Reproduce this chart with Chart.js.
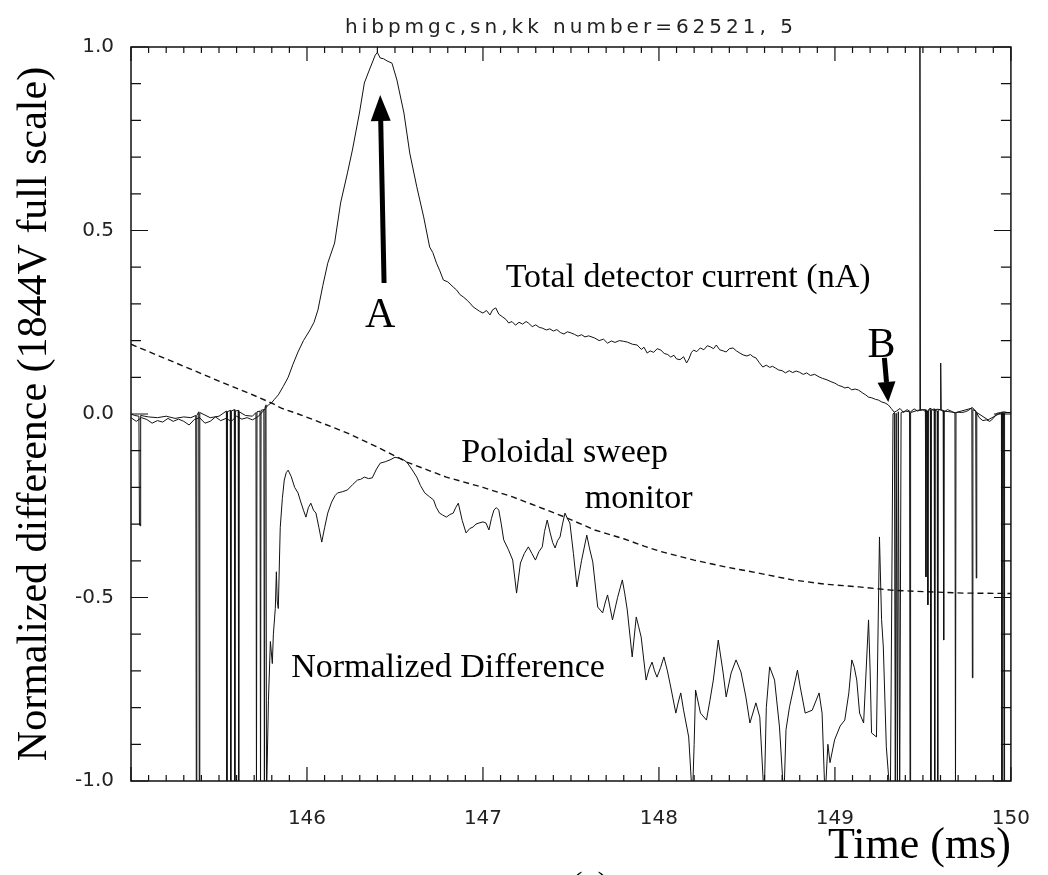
<!DOCTYPE html>
<html>
<head>
<meta charset="utf-8">
<script src="https://cdn.jsdelivr.net/npm/chart.js@4.4.1/dist/chart.umd.min.js"></script>
<style>
  html, body { margin: 0; padding: 0; background: #ffffff; }
  #wrap { width: 1048px; height: 875px; }
</style>
</head>
<body>
<div id="wrap"><canvas id="c" width="1048" height="875"></canvas></div>
<script>
// Total detector current trace (time in ms, normalised value)
const currentTime = [
  145.000,145.030,145.060,145.090,145.120,145.150,145.180,145.210,145.240,145.270,
  145.300,145.330,145.360,145.390,145.420,145.450,145.480,145.510,145.540,145.570,
  145.600,145.630,145.660,145.690,145.720,145.742,145.781,145.798,145.815,145.837,
  145.865,145.893,145.920,145.949,145.980,146.017,146.040,146.062,146.090,146.118,
  146.157,146.191,146.230,146.258,146.298,146.326,146.354,146.388,146.400,146.416,
  146.435,146.455,146.483,146.511,146.551,146.584,146.624,146.663,146.697,146.715,
  146.736,146.755,146.775,146.800,146.831,146.850,146.870,146.888,146.910,146.930,
  146.944,146.965,146.980,147.000,147.020,147.040,147.055,147.073,147.090,147.110,
  147.130,147.146,147.165,147.185,147.205,147.225,147.245,147.258,147.280,147.300,
  147.320,147.337,147.360,147.380,147.400,147.420,147.440,147.460,147.480,147.500,
  147.520,147.540,147.560,147.580,147.600,147.635,147.660,147.685,147.708,147.730,
  147.750,147.775,147.800,147.820,147.850,147.876,147.900,147.915,147.933,147.950,
  147.970,147.990,148.011,148.030,148.050,148.067,148.085,148.100,148.120,148.140,
  148.157,148.170,148.185,148.197,148.215,148.235,148.255,148.275,148.292,148.310,
  148.326,148.345,148.365,148.382,148.400,148.421,148.440,148.460,148.478,148.500,
  148.520,148.535,148.551,148.570,148.590,148.610,148.630,148.645,148.663,148.680,
  148.700,148.719,148.740,148.760,148.780,148.798,148.820,148.840,148.860,148.885,
  148.910,148.930,148.955,148.983,149.000,149.020,149.040,149.056,149.075,149.095,
  149.115,149.135,149.155,149.175,149.191,149.210,149.230,149.247,149.265,149.285,
  149.303,149.320,149.337,149.350,149.370,149.390,149.410,149.430,149.450,149.470,
  149.480,149.483,149.486,149.500,149.520,149.540,149.560,149.580,149.598,149.601,
  149.604,149.620,149.640,149.660,149.680,149.700,149.720,149.740,149.760,149.780,
  149.800,149.820,149.840,149.860,149.880,149.900,149.920,149.940,149.960,149.980,
  150.000
];
const currentValue = [
  -0.010,-0.020,-0.010,-0.015,-0.025,-0.018,-0.022,-0.012,-0.020,-0.014,
  -0.020,-0.030,-0.015,-0.010,-0.025,-0.020,-0.008,-0.018,-0.012,-0.020,
  -0.006,-0.014,-0.010,-0.016,-0.008,0.003,0.025,0.030,0.040,0.052,
  0.075,0.100,0.135,0.169,0.200,0.229,0.250,0.283,0.350,0.411,
  0.466,0.575,0.657,0.719,0.820,0.902,0.937,0.978,0.985,0.970,
  0.968,0.962,0.956,0.910,0.820,0.711,0.619,0.537,0.455,0.440,
  0.411,0.390,0.365,0.360,0.346,0.338,0.325,0.319,0.310,0.300,
  0.292,0.285,0.280,0.275,0.282,0.270,0.284,0.289,0.272,0.265,
  0.258,0.248,0.252,0.242,0.250,0.245,0.252,0.248,0.238,0.243,
  0.236,0.234,0.229,0.232,0.226,0.230,0.222,0.218,0.224,0.221,
  0.217,0.212,0.216,0.210,0.213,0.207,0.200,0.204,0.193,0.199,
  0.195,0.200,0.198,0.196,0.190,0.188,0.176,0.182,0.166,0.172,
  0.168,0.178,0.174,0.165,0.162,0.155,0.160,0.150,0.148,0.156,
  0.139,0.150,0.168,0.174,0.170,0.180,0.175,0.186,0.183,0.178,
  0.188,0.175,0.172,0.169,0.178,0.180,0.172,0.166,0.161,0.158,
  0.162,0.156,0.153,0.140,0.128,0.133,0.127,0.130,0.125,0.120,
  0.118,0.112,0.118,0.113,0.117,0.114,0.108,0.112,0.105,0.108,
  0.101,0.097,0.093,0.087,0.084,0.078,0.075,0.071,0.073,0.066,
  0.068,0.065,0.058,0.052,0.046,0.044,0.040,0.038,0.033,0.030,
  0.025,0.015,0.005,0.008,0.015,0.004,0.012,0.006,0.014,0.008,
  0.010,1.050,0.010,0.012,0.004,0.016,0.010,0.013,0.012,0.139,
  0.010,0.006,0.012,0.008,0.003,0.005,0.004,0.006,0.010,0.018,
  0.008,-0.010,-0.018,-0.016,-0.020,-0.012,0.002,0.004,0.006,0.004,
  0.004
];

// Normalized difference trace
const normTime = [
  145.000,145.020,145.045,145.048,145.052,145.055,145.100,145.150,145.200,145.250,
  145.300,145.340,145.368,145.371,145.374,145.385,145.388,145.391,145.450,145.500,
  145.542,145.545,145.548,145.564,145.567,145.570,145.587,145.590,145.593,145.609,
  145.612,145.615,145.650,145.690,145.710,145.713,145.716,145.733,145.736,145.739,
  145.755,145.758,145.762,145.767,145.770,145.781,145.792,145.803,145.809,145.820,
  145.826,145.831,145.837,145.848,145.860,145.871,145.882,145.893,145.910,145.930,
  145.949,145.965,145.980,145.994,146.008,146.022,146.037,146.051,146.068,146.084,
  146.100,146.118,146.140,146.160,146.174,146.200,146.230,146.260,146.287,146.305,
  146.326,146.350,146.371,146.395,146.416,146.445,146.472,146.500,146.522,146.545,
  146.567,146.595,146.624,146.645,146.669,146.695,146.719,146.735,146.753,146.770,
  146.792,146.812,146.831,146.845,146.860,146.882,146.904,146.925,146.944,146.960,
  146.978,147.000,147.017,147.034,147.048,147.062,147.076,147.090,147.104,147.118,
  147.145,147.169,147.191,147.213,147.235,147.258,147.278,147.298,147.318,147.337,
  147.350,147.365,147.382,147.396,147.410,147.424,147.438,147.452,147.466,147.480,
  147.494,147.514,147.534,147.560,147.590,147.605,147.624,147.652,147.680,147.694,
  147.708,147.736,147.765,147.792,147.806,147.820,147.848,147.871,147.885,147.899,
  147.927,147.944,147.961,147.975,147.989,148.010,148.028,148.048,148.067,148.096,
  148.110,148.124,148.140,148.169,148.190,148.200,148.208,148.236,148.270,148.290,
  148.309,148.337,148.365,148.382,148.410,148.438,148.466,148.494,148.517,148.551,
  148.573,148.598,148.610,148.629,148.657,148.685,148.710,148.722,148.742,148.787,
  148.803,148.831,148.871,148.910,148.927,148.944,148.960,148.972,148.998,149.030,
  149.056,149.079,149.096,149.110,149.124,149.140,149.163,149.191,149.200,149.208,
  149.236,149.253,149.265,149.275,149.292,149.315,149.330,149.338,149.343,149.348,
  149.355,149.360,149.368,149.376,149.400,149.424,149.427,149.430,149.470,149.514,
  149.517,149.520,149.525,149.528,149.531,149.542,149.545,149.548,149.564,149.567,
  149.570,149.581,149.584,149.587,149.615,149.618,149.621,149.682,149.685,149.688,
  149.778,149.781,149.784,149.800,149.803,149.806,149.870,149.946,149.949,149.952,
  149.958,149.961,149.964,150.000
];
const normValue = [
  0.000,-0.004,-0.006,-0.300,-0.305,-0.004,-0.008,-0.010,-0.006,-0.012,
  -0.008,-0.010,-0.004,-1.050,-0.004,0.006,-1.050,0.004,-0.010,-0.006,
  0.008,-1.050,0.006,0.010,-1.050,0.008,0.012,-1.050,0.008,0.010,
  -1.050,0.006,-0.004,-0.006,0.004,-1.050,0.006,0.008,-1.050,0.010,
  0.012,-1.050,0.020,0.025,-1.050,-0.780,-0.620,-0.680,-0.600,-0.530,
  -0.430,-0.510,-0.530,-0.310,-0.230,-0.180,-0.160,-0.153,-0.170,-0.200,
  -0.215,-0.240,-0.262,-0.281,-0.255,-0.243,-0.262,-0.270,-0.310,-0.349,
  -0.310,-0.270,-0.240,-0.222,-0.215,-0.212,-0.207,-0.192,-0.180,-0.178,
  -0.172,-0.176,-0.174,-0.150,-0.134,-0.130,-0.125,-0.118,-0.120,-0.124,
  -0.131,-0.150,-0.172,-0.195,-0.215,-0.225,-0.234,-0.255,-0.270,-0.275,
  -0.281,-0.274,-0.270,-0.255,-0.243,-0.290,-0.324,-0.312,-0.308,-0.300,
  -0.297,-0.294,-0.297,-0.316,-0.285,-0.262,-0.255,-0.262,-0.300,-0.343,
  -0.370,-0.398,-0.488,-0.406,-0.380,-0.362,-0.380,-0.398,-0.375,-0.362,
  -0.320,-0.289,-0.324,-0.350,-0.365,-0.345,-0.335,-0.300,-0.270,-0.285,
  -0.297,-0.380,-0.471,-0.400,-0.330,-0.365,-0.403,-0.526,-0.542,-0.515,
  -0.493,-0.561,-0.500,-0.452,-0.490,-0.534,-0.662,-0.553,-0.580,-0.608,
  -0.725,-0.695,-0.676,-0.700,-0.717,-0.690,-0.662,-0.700,-0.744,-0.815,
  -0.785,-0.760,-0.807,-0.880,-1.050,-0.900,-0.752,-0.815,-0.834,-0.780,
  -0.725,-0.616,-0.706,-0.771,-0.706,-0.670,-0.703,-0.771,-0.842,-0.787,
  -0.826,-1.050,-0.800,-0.689,-0.725,-0.853,-1.050,-0.860,-0.798,-0.698,
  -0.744,-0.815,-0.807,-0.760,-0.815,-1.050,-0.900,-0.950,-0.888,-0.850,
  -0.834,-0.760,-0.670,-0.690,-0.725,-0.815,-0.842,-0.561,-0.700,-0.869,
  -0.880,-0.335,-0.560,-0.635,-0.907,-1.050,0.000,0.004,-1.050,0.002,
  -1.050,0.006,-1.050,0.004,0.008,0.006,-1.050,0.004,0.010,0.012,
  -0.444,0.010,0.008,-0.520,0.010,0.012,-1.050,0.010,0.014,-1.050,
  0.010,0.008,-1.050,0.012,0.010,-0.616,0.008,0.004,-1.050,0.004,
  0.016,-0.719,0.012,0.008,-0.447,0.004,-0.016,0.004,-1.050,0.004,
  0.004,-1.050,0.004,0.004
];

// Poloidal sweep monitor (dashed)
const sweepTime = [
  145.000,145.100,145.200,145.300,145.400,145.483,145.560,145.669,145.798,145.854,
  145.950,146.050,146.230,146.400,146.567,146.792,147.000,147.169,147.300,147.466,
  147.635,147.800,147.916,148.011,148.200,148.382,148.550,148.758,148.950,149.135,
  149.320,149.500,149.730,150.000
];
const sweepValue = [
  0.190,0.170,0.150,0.130,0.110,0.093,0.078,0.057,0.030,0.016,
  0.000,-0.018,-0.052,-0.090,-0.131,-0.172,-0.200,-0.226,-0.250,-0.281,
  -0.316,-0.340,-0.360,-0.375,-0.398,-0.417,-0.432,-0.452,-0.464,-0.471,
  -0.480,-0.484,-0.488,-0.489
];

// Axis settings
const xRange = [145, 150];
const yRange = [-1, 1];
const xMajorStep = 1, xMinorStep = 0.1;
const yMajorStep = 0.5, yMinorStep = 0.1;

const titleText = 'hibpmgc,sn,kk number=62521, 5';
const yAxisTitle = 'Normalized difference (1844V full scale)';
const xAxisTitle = 'Time (ms)';

// Annotation labels and arrows, anchored in data units
const labelNotes = [
  { text: 'Total detector current (nA)', t: 147.129, v: 0.346, align: 'left', size: 34 },
  { text: 'Poloidal sweep', t: 146.876, v: -0.131, align: 'left', size: 34 },
  { text: 'monitor', t: 147.579, v: -0.256, align: 'left', size: 34 },
  { text: 'Normalized Difference', t: 145.910, v: -0.717, align: 'left', size: 34 },
  { text: 'A', t: 146.416, v: 0.237, align: 'center', size: 42 },
  { text: 'B', t: 149.264, v: 0.155, align: 'center', size: 42 }
];
const arrowNotes = [
  { from: [146.438, 0.357], to: [146.416, 0.869], shaft: 5, headLen: 26, headHalf: 10 },
  { from: [149.281, 0.153], to: [149.303, 0.033], shaft: 5, headLen: 20, headHalf: 9 }
];

const pts = (ts, vs) => ts.map((t, i) => ({ x: t, y: vs[i] }));

const serif = '"Liberation Serif", "Times New Roman", serif';
const plain = '"DejaVu Sans", sans-serif';

const framePlugin = {
  id: 'frameTicksNotes',
  afterDatasetsDraw(chart) {
    const { ctx, chartArea: a, scales: { x, y } } = chart;
    ctx.save();
    // plot frame
    ctx.strokeStyle = '#111';
    ctx.lineWidth = 1.5;
    ctx.strokeRect(a.left, a.top, a.right - a.left, a.bottom - a.top);
    // inward tick marks on all four sides
    ctx.lineWidth = 1.2;
    ctx.beginPath();
    const nx = Math.round((xRange[1] - xRange[0]) / xMinorStep);
    const perMajorX = Math.round(xMajorStep / xMinorStep);
    for (let i = 0; i <= nx; i++) {
      const px = x.getPixelForValue(xRange[0] + i * xMinorStep);
      const len = i % perMajorX === 0 ? 14 : 6;
      ctx.moveTo(px, a.bottom); ctx.lineTo(px, a.bottom - len);
      ctx.moveTo(px, a.top); ctx.lineTo(px, a.top + len);
    }
    const ny = Math.round((yRange[1] - yRange[0]) / yMinorStep);
    const perMajorY = Math.round(yMajorStep / yMinorStep);
    for (let i = 0; i <= ny; i++) {
      const py = y.getPixelForValue(yRange[0] + i * yMinorStep);
      const len = i % perMajorY === 0 ? 17 : 10;
      ctx.moveTo(a.left, py); ctx.lineTo(a.left + len, py);
      ctx.moveTo(a.right, py); ctx.lineTo(a.right - len, py);
    }
    ctx.stroke();

    // arrows
    ctx.fillStyle = '#000';
    ctx.strokeStyle = '#000';
    arrowNotes.forEach(ar => {
      const x0 = x.getPixelForValue(ar.from[0]), y0 = y.getPixelForValue(ar.from[1]);
      const x1 = x.getPixelForValue(ar.to[0]), y1 = y.getPixelForValue(ar.to[1]);
      const ang = Math.atan2(y1 - y0, x1 - x0);
      const bx = x1 - Math.cos(ang) * ar.headLen, by = y1 - Math.sin(ang) * ar.headLen;
      ctx.lineWidth = ar.shaft;
      ctx.beginPath(); ctx.moveTo(x0, y0); ctx.lineTo(bx, by); ctx.stroke();
      ctx.beginPath();
      ctx.moveTo(x1, y1);
      ctx.lineTo(bx + Math.sin(ang) * ar.headHalf, by - Math.cos(ang) * ar.headHalf);
      ctx.lineTo(bx - Math.sin(ang) * ar.headHalf, by + Math.cos(ang) * ar.headHalf);
      ctx.closePath(); ctx.fill();
    });

    // text notes
    ctx.textBaseline = 'alphabetic';
    labelNotes.forEach(n => {
      ctx.font = n.size + 'px ' + serif;
      ctx.textAlign = n.align;
      ctx.fillText(n.text, x.getPixelForValue(n.t), y.getPixelForValue(n.v));
    });

    // plot title above the frame
    ctx.font = '20px ' + plain;
    ctx.textAlign = 'center';
    ctx.fillStyle = '#222';
    if ('letterSpacing' in ctx) ctx.letterSpacing = '4px';
    ctx.fillText(titleText, (a.left + a.right) / 2, a.top - 14);
    if ('letterSpacing' in ctx) ctx.letterSpacing = '0px';

    // panel tag, mostly below the page edge
    ctx.font = '34px ' + serif;
    ctx.fillStyle = '#000';
    ctx.fillText('(a)', 590, chart.height + 20);
    ctx.restore();
  }
};

new Chart(document.getElementById('c'), {
  type: 'scatter',
  data: {
    datasets: [
      { label: 'Total detector current', data: pts(currentTime, currentValue),
        showLine: true, borderColor: '#111', borderWidth: 1, pointRadius: 0, tension: 0 },
      { label: 'Normalized Difference', data: pts(normTime, normValue),
        showLine: true, borderColor: '#111', borderWidth: 1, pointRadius: 0, tension: 0 },
      { label: 'Poloidal sweep monitor', data: pts(sweepTime, sweepValue),
        showLine: true, borderColor: '#111', borderWidth: 1.4, borderDash: [6, 4],
        pointRadius: 0, tension: 0 }
    ]
  },
  options: {
    responsive: false,
    animation: false,
    devicePixelRatio: 1,
    events: [],
    layout: { padding: { top: 47, right: 27, left: 0, bottom: 0 } },
    plugins: { legend: { display: false }, tooltip: { enabled: false }, title: { display: false } },
    scales: {
      x: {
        type: 'linear', min: xRange[0], max: xRange[1],
        grid: { display: false }, border: { display: false },
        ticks: {
          stepSize: xMajorStep, padding: 18, color: '#222', maxRotation: 0,
          font: { family: plain, size: 20 },
          callback: v => (v === xRange[0] ? null : String(v))
        },
        title: {
          display: true, text: xAxisTitle, align: 'end', color: '#000',
          font: { family: serif, size: 44 }, padding: { top: 0, bottom: 2 }
        },
        afterFit: s => { s.height = 94; }
      },
      y: {
        type: 'linear', min: yRange[0], max: yRange[1],
        grid: { display: false }, border: { display: false },
        ticks: {
          stepSize: yMajorStep, padding: 9, color: '#222',
          font: { family: plain, size: 20 },
          callback: v => v.toFixed(1)
        },
        title: {
          display: true, text: yAxisTitle, color: '#000',
          font: { family: serif, size: 42 }, padding: { top: 10, bottom: 0 }
        },
        afterFit: s => { s.width = 131; }
      }
    }
  },
  plugins: [framePlugin]
});
</script>
</body>
</html>
